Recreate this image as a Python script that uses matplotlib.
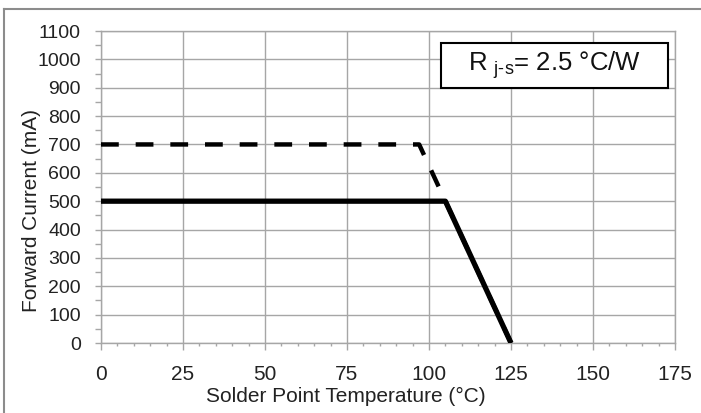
import matplotlib
matplotlib.use("Agg")
import matplotlib.pyplot as plt
from matplotlib.lines import Line2D
from matplotlib.patches import Rectangle
from matplotlib.ticker import MultipleLocator

plt.rcParams['font.family'] = ['Liberation Sans', 'DejaVu Sans']
plt.rcParams['mathtext.fontset'] = 'custom'
plt.rcParams['mathtext.rm'] = 'Liberation Sans'
plt.rcParams['mathtext.it'] = 'Liberation Sans'

# Data
solid_x = [0, 105, 125]
solid_y = [500, 500, 0]
dashed_x = [0, 97, 125]
dashed_y = [700, 700, 0]
x_ticks = [0, 25, 50, 75, 100, 125, 150, 175]
y_ticks = [0, 100, 200, 300, 400, 500, 600, 700, 800, 900, 1000, 1100]
x_label = "Solder Point Temperature (°C)"
y_label = "Forward Current (mA)"
box_text = r"R $_{\text{j-s}}$= 2.5 °C/W"

W, H = 701, 413
fig = plt.figure(figsize=(W/100, H/100), dpi=100)
ax = fig.add_axes([101/W, 1-343/H, 574/W, 312/H])

grid_c = '#a6a6a6'
txt_c = '#222222'
ax.plot(dashed_x, dashed_y, color='black', lw=3.2, dashes=(4.0, 3.8), zorder=3)
ax.plot(solid_x, solid_y, color='black', lw=3.8, solid_capstyle='butt', zorder=4)

ax.set_xlim(0, 175)
ax.set_ylim(0, 1100)
ax.set_xticks(x_ticks)
ax.set_yticks(y_ticks)
ax.xaxis.set_minor_locator(MultipleLocator(5))
ax.yaxis.set_minor_locator(MultipleLocator(50))
ax.grid(True, which='major', color=grid_c, lw=1.0)
ax.set_axisbelow(True)
for s in ax.spines.values():
    s.set_color(grid_c)
    s.set_linewidth(1.0)
ax.tick_params(which='major', direction='out', color=grid_c, width=1.0, labelcolor=txt_c)
ax.tick_params(axis='x', which='major', length=5, pad=11, labelsize=15)
ax.tick_params(axis='x', which='minor', length=2.5, color=grid_c, width=1.0)
ax.tick_params(axis='y', which='major', length=4.5, pad=10, labelsize=14)
ax.tick_params(axis='y', which='minor', length=4.5, color=grid_c, width=1.0)

ax.set_xlabel(x_label, fontsize=15, color=txt_c)
ax.set_ylabel(y_label, fontsize=15, color=txt_c)
ax.xaxis.set_label_coords(0.426, -0.141)
ax.yaxis.set_label_coords(-0.1045, 0.426)

rect = Rectangle((0.592, 0.817), 0.396, 0.1445, transform=ax.transAxes,
                 facecolor='white', edgecolor='black', lw=1.5, zorder=5)
ax.add_patch(rect)
ax.text(0.79, 0.889, box_text, transform=ax.transAxes, ha='center', va='center',
        fontsize=18.5, color='#111111', zorder=6)

# outer border (top and left)
fig.add_artist(Line2D([4/W, 4/W], [0, 1-9/H], transform=fig.transFigure, color='#8c8c8c', lw=1.5))
fig.add_artist(Line2D([4/W, 1], [1-9/H, 1-9/H], transform=fig.transFigure, color='#8c8c8c', lw=1.5))

fig.savefig('out.png', dpi=100)
